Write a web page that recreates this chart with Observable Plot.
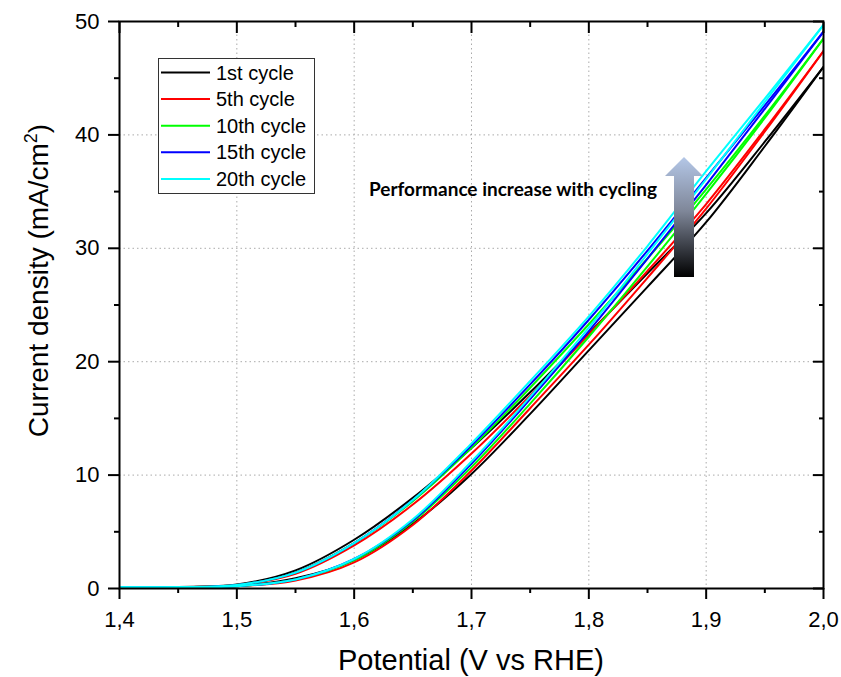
<!DOCTYPE html>
<html>
<head>
<meta charset="utf-8">
<script src="https://cdn.jsdelivr.net/npm/d3@7"></script>
<script src="https://cdn.jsdelivr.net/npm/@observablehq/plot@0.6"></script>
<style>
  html, body { margin: 0; padding: 0; background: #fff; }
  #chart { width: 841px; height: 677px; }
</style>
</head>
<body>
<div id="chart"></div>
<script>
// ---- data ----
const potentials = [1.40, 1.45, 1.50, 1.55, 1.60, 1.65, 1.70, 1.75, 1.80, 1.85, 1.90, 1.95, 2.00];
const cycles = ["1st cycle", "5th cycle", "10th cycle", "15th cycle", "20th cycle"];
const cycleColors = ["#000000", "#ff0000", "#00ff00", "#0000ff", "#00ffff"];

// upper branch at low potential (return sweep) and lower branch (forward sweep)
const cycle1Upper  = [0.12, 0.14, 0.35, 1.6, 4.3, 8.0, 12.4, 17.3, 22.5, 27.8, 33.1, 39.4, 46.0];
const cycle1Lower  = [0.10, 0.12, 0.22, 0.9, 2.5, 5.7, 10.1, 15.4, 21.0, 26.6, 32.3, 39.0, 46.0];
const cycle5Upper  = [0.12, 0.13, 0.30, 1.3, 3.8, 7.4, 11.9, 17.0, 22.4, 28.0, 33.9, 40.5, 47.4];
const cycle5Lower  = [0.10, 0.12, 0.20, 0.7, 2.3, 5.6, 10.4, 15.9, 21.5, 27.4, 33.5, 40.3, 47.4];
const cycle10Upper = [0.12, 0.13, 0.30, 1.4, 4.0, 7.7, 12.4, 17.7, 23.3, 29.1, 35.2, 41.7, 48.5];
const cycle10Lower = [0.10, 0.12, 0.20, 0.8, 2.5, 5.9, 10.7, 16.3, 22.2, 28.4, 34.8, 41.5, 48.5];
const cycle15Upper = [0.12, 0.13, 0.30, 1.4, 4.0, 7.8, 12.6, 18.0, 23.7, 29.8, 36.2, 42.6, 49.1];
const cycle15Lower = [0.10, 0.12, 0.20, 0.8, 2.6, 6.0, 11.0, 16.7, 22.7, 29.1, 35.6, 42.3, 49.1];
const cycle20Upper = [0.12, 0.13, 0.30, 1.4, 4.0, 7.8, 12.8, 18.3, 24.0, 30.2, 36.8, 43.2, 49.7];
const cycle20Lower = [0.10, 0.12, 0.20, 0.8, 2.6, 6.1, 11.2, 16.9, 23.0, 29.5, 36.1, 42.9, 49.7];

const xMajorTicks = [1.4, 1.5, 1.6, 1.7, 1.8, 1.9, 2.0];
const xMinorTicks = [1.45, 1.55, 1.65, 1.75, 1.85, 1.95];
const yMajorTicks = [0, 10, 20, 30, 40, 50];
const yMinorTicks = [5, 15, 25, 35, 45];
const xGridTicks = [1.5, 1.6, 1.7, 1.8, 1.9];
const yGridTicks = [10, 20, 30, 40];

const xLabel = "Potential (V vs RHE)";
const yLabelMain = "Current density (mA/cm";
const yLabelSup = "2";
const yLabelEnd = ")";
const annotation = "Performance increase with cycling";

// ---- build table ----
const branches = [
  [cycle1Upper, cycle1Lower], [cycle5Upper, cycle5Lower], [cycle10Upper, cycle10Lower],
  [cycle15Upper, cycle15Lower], [cycle20Upper, cycle20Lower]
];
const rows = [];
cycles.forEach((c, i) => {
  ["upper", "lower"].forEach((b, j) => {
    branches[i][j].forEach((J, k) => rows.push({V: potentials[k], J, cycle: c, key: c + "-" + b}));
  });
});

const fmt = d => d.toFixed(1).replace(".", ",");
const blank = () => "";
const font = "'Liberation Sans', Arial, Helvetica, sans-serif";

const plot = Plot.plot({
  width: 841,
  height: 677,
  marginLeft: 119,
  marginRight: 18,
  marginTop: 21,
  marginBottom: 89,
  style: {fontFamily: font, fontSize: "22px", background: "#fff", color: "#000", overflow: "visible"},
  x: {domain: [1.4, 2.0]},
  y: {domain: [0, 50]},
  color: {domain: cycles, range: cycleColors},
  marks: [
    Plot.gridX(xGridTicks, {stroke: "#aaaaaa", strokeOpacity: 1, strokeWidth: 1, strokeDasharray: "1.5,3"}),
    Plot.gridY(yGridTicks, {stroke: "#aaaaaa", strokeOpacity: 1, strokeWidth: 1, strokeDasharray: "1.5,3"}),
    Plot.line(rows, {x: "V", y: "J", z: "key", stroke: "cycle", strokeWidth: 2, curve: "catmull-rom", clip: true}),
    Plot.frame({stroke: "#000", strokeWidth: 2}),
    // bottom
    Plot.axisX(xMajorTicks, {anchor: "bottom", tickSize: 11, tickPadding: 12, tickFormat: fmt, strokeWidth: 2, label: null, fill: "#000", fontSize: 22}),
    Plot.axisX(xMinorTicks, {anchor: "bottom", tickSize: 5, tickFormat: blank, strokeWidth: 2, label: null}),
    // top (inward)
    Plot.axisX(xMajorTicks, {anchor: "top", tickSize: 11, dy: 11, tickFormat: blank, strokeWidth: 2, label: null}),
    Plot.axisX(xMinorTicks, {anchor: "top", tickSize: 5, dy: 5, tickFormat: blank, strokeWidth: 2, label: null}),
    // left
    Plot.axisY(yMajorTicks, {anchor: "left", tickSize: 11, tickPadding: 9, tickFormat: d => String(d), strokeWidth: 2, label: null, fill: "#000", fontSize: 22}),
    Plot.axisY(yMinorTicks, {anchor: "left", tickSize: 5, tickFormat: blank, strokeWidth: 2, label: null}),
    // right (inward)
    Plot.axisY(yMajorTicks, {anchor: "right", tickSize: 11, dx: -11, tickFormat: blank, strokeWidth: 2, label: null}),
    Plot.axisY(yMinorTicks, {anchor: "right", tickSize: 5, dx: -5, tickFormat: blank, strokeWidth: 2, label: null})
  ]
});

document.getElementById("chart").appendChild(plot);

// ---- decorations ----
const svg = d3.select(plot);
const sx = plot.scale("x"), sy = plot.scale("y");

// axis titles
svg.append("text")
  .attr("x", (sx.apply(1.4) + sx.apply(2.0)) / 2)
  .attr("y", 670)
  .attr("text-anchor", "middle")
  .attr("font-family", font)
  .attr("font-size", 29)
  .attr("fill", "#000")
  .text(xLabel);

const yl = svg.append("text")
  .attr("transform", `translate(48,${(sy.apply(0) + sy.apply(50)) / 2 - 24}) rotate(-90)`)
  .attr("text-anchor", "middle")
  .attr("font-family", font)
  .attr("font-size", 28)
  .attr("fill", "#000");
yl.append("tspan").text(yLabelMain);
yl.append("tspan").attr("font-size", 18).attr("dy", -11).text(yLabelSup);
yl.append("tspan").attr("dy", 11).text(yLabelEnd);

// legend
const lg = svg.append("g");
lg.append("rect").attr("x", 158.5).attr("y", 58.5).attr("width", 156).attr("height", 135)
  .attr("fill", "#fff").attr("stroke", "#333").attr("stroke-width", 1);
cycles.forEach((c, i) => {
  const yy = 72.5 + i * 26.6;
  lg.append("line").attr("x1", 161).attr("x2", 210).attr("y1", yy).attr("y2", yy)
    .attr("stroke", cycleColors[i]).attr("stroke-width", 2);
  lg.append("text").attr("x", 216).attr("y", yy + 7)
    .attr("text-anchor", "start")
    .attr("font-family", font).attr("font-size", 20).attr("fill", "#000").text(c);
});

// annotation text
svg.append("text")
  .attr("x", 369).attr("y", 196)
  .attr("text-anchor", "start")
  .attr("font-family", "Lato, 'Open Sans', sans-serif")
  .attr("font-weight", "bold")
  .attr("font-size", 18)
  .attr("textLength", 288)
  .attr("lengthAdjust", "spacingAndGlyphs")
  .attr("fill", "#000")
  .text(annotation);

// gradient arrow
const defs = svg.append("defs");
const grad = defs.append("linearGradient").attr("id", "arrowGrad")
  .attr("x1", 0).attr("y1", 0).attr("x2", 0).attr("y2", 1);
grad.append("stop").attr("offset", "0%").attr("stop-color", "#b4c7e7");
grad.append("stop").attr("offset", "45%").attr("stop-color", "#7f8799");
grad.append("stop").attr("offset", "100%").attr("stop-color", "#000000");
svg.append("path")
  .attr("d", "M684,157 L703,176 L694,176 L694,277 L674,277 L674,176 L665,176 Z")
  .attr("fill", "url(#arrowGrad)")
  .attr("stroke", "none");
</script>
</body>
</html>
